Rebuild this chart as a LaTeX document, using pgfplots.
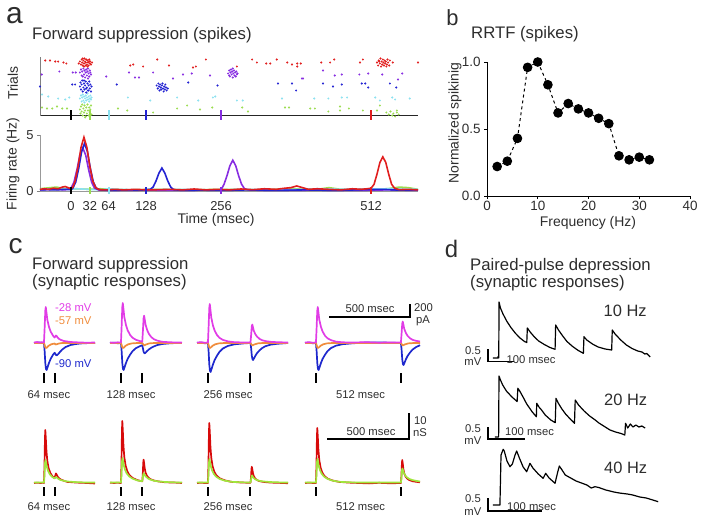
\documentclass[border=0pt]{standalone}
\usepackage{fontspec}
\setmainfont{Liberation Sans}
\usepackage{pgfplots}
\pgfplotsset{compat=1.18}
\definecolor{rR}{RGB}{225,30,30}
\definecolor{rP}{RGB}{135,45,225}
\definecolor{rB}{RGB}{35,35,210}
\definecolor{rC}{RGB}{140,225,240}
\definecolor{rG}{RGB}{155,220,80}
\definecolor{cM}{RGB}{225,60,230}
\definecolor{cO}{RGB}{240,140,60}
\definecolor{cB}{RGB}{30,40,205}
\definecolor{cR}{RGB}{215,10,10}
\definecolor{cG}{RGB}{160,230,60}
\definecolor{tx}{RGB}{45,45,45}
\newcommand{\fs}[1]{\fontsize{#1}{#1}\selectfont}
\pgfplotsset{bare/.style={scale only axis, hide axis, clip=false, anchor=south west},
  tr/.style={line width=1.7bp, line join=round},
  stim/.style={black, line width=2bp}}
\begin{document}
\begin{tikzpicture}
\useasboundingbox (0bp,0bp) rectangle (701bp,-520bp);
% ---------- letters and titles
\node[font=\fs{30}, tx] at (14.5bp,-16bp) {a};
\node[font=\fs{22}, tx] at (452.5bp,-17.5bp) {b};
\node[font=\fs{28}, tx] at (15.5bp,-246bp) {c};
\node[font=\fs{24}, tx] at (451.5bp,-249bp) {d};
\node[font=\fs{16.8}, tx, anchor=base west, inner sep=0pt] at (32bp,-39bp) {Forward suppression (spikes)};
\node[font=\fs{16.8}, tx, anchor=base west, inner sep=0pt] at (471bp,-38.5bp) {RRTF (spikes)};
\node[font=\fs{16.8}, tx, anchor=base west, inner sep=0pt] at (32bp,-269.5bp) {Forward suppression};
\node[font=\fs{16.8}, tx, anchor=base west, inner sep=0pt] at (32bp,-286.5bp) {(synaptic responses)};
\node[font=\fs{16.8}, tx, anchor=base west, inner sep=0pt] at (470bp,-270bp) {Paired-pulse depression};
\node[font=\fs{16.8}, tx, anchor=base west, inner sep=0pt] at (470bp,-287bp) {(synaptic responses)};
% ---------- panel a labels
\node[font=\fs{14}, tx, rotate=90] at (13bp,-83bp) {Trials};
\node[font=\fs{14}, tx, rotate=90] at (13bp,-164bp) {Firing rate (Hz)};
\node[font=\fs{14}, tx] at (216bp,-220bp) {Time (msec)};
% ---------- raster
\begin{axis}[scale only axis, at={(40bp,-115.5bp)}, anchor=south west, width=378bp, height=58.5bp,
  xmin=-53, xmax=592, ymin=0, ymax=58.5, axis x line*=bottom, axis y line*=left,
  x axis line style={black!85, line width=1bp}, y axis line style={gray, line width=1bp},
  xtick=\empty, ytick=\empty, clip=false]
\addplot[only marks, mark=*, mark size=0.8bp, rG] coordinates {(-49.5,8) (-41,7) (-32,7) (-24,9) (-15,7) (-7,7) (80,7) (96,5) (140,3) (181,7) (198,10) (220,6) (241,8) (292,8) (302,4) (365,8) (372,8) (408,7) (416,7) (439,4) (459,9) (459,5) (474,7) (498,5) (522,5) (527,10) (556,5)
 (15,6) (16,2) (17,9) (18,4) (19,11) (20,0) (21,7) (22,3) (23,10) (24,5) (25,-1) (26,8) (27,2) (28,11) (29,5) (30,0) (31,8) (32,3) (33,6) (34,10) (35,1) (24,-2)
 (538,3) (542,1) (545,4) (548,0) (550,2) (553,-1) (556,3) (559,1)};
\addplot[only marks, mark=*, mark size=0.8bp, rC] coordinates {(-49.5,21) (-39,19) (-22,17) (-10,16) (-3,18) (97,18) (135,15) (181,18) (217,15) (246,19) (242,18) (283,15) (293,15) (360,17) (415,17) (439,17) (462,18) (471,18) (519,18) (527,15) (548,18) (553,16) (578,17)
 (15,17) (17,20) (18,14) (19,18) (20,21) (21,15) (22,19) (23,13) (24,17) (25,20) (26,15) (27,18) (28,22) (29,16) (30,19) (31,14) (32,17) (33,20) (34,16) (35,18)};
\addplot[only marks, mark=*, mark size=0.8bp, rB] coordinates {(-53,29) (2,31) (7,31) (78,31) (353,32) (377,32) (384,25) (430,32) (447,29) (462,31) (496,32) (502,32) (507,28) (544,32) (555,28) (200,33) (250,30)
 (15,29) (16,33) (17,26) (18,31) (19,35) (20,24) (21,28) (22,32) (23,26) (24,30) (25,34) (26,23) (27,28) (28,32) (29,25) (30,30) (31,34) (32,27) (33,31) (34,24) (35,29) (22,35) (26,27) (30,25)
 (146,30) (148,27) (149,32) (150,29) (151,25) (152,31) (153,28) (154,26) (155,30) (156,32) (157,27) (158,24) (159,29) (160,26) (161,31) (162,28) (163,25) (165,27)};
\addplot[only marks, mark=*, mark size=0.8bp, rP] coordinates {(-50,41) (3,43) (8,43) (99,43) (109,38) (116,38) (140,43) (174,37) (191,41) (206,42) (237,40) (394,37) (396,37) (430,45) (450,40) (462,41) (492,41) (507,42) (531,41) (565,42) (558,36) (-20,44) (60,39)
 (15,43) (17,46) (18,40) (19,44) (21,47) (22,41) (23,45) (24,38) (25,43) (26,46) (27,40) (28,44) (29,47) (30,42) (31,39) (32,45) (33,43) (34,41) (20,39) (29,37)
 (268,42) (270,45) (271,39) (272,43) (273,46) (274,41) (275,44) (276,38) (277,42) (278,45) (279,40) (280,43) (281,39) (282,44) (283,41) (270,40) (284,42) (276,47)};
\addplot[only marks, mark=*, mark size=0.8bp, rR] coordinates {(-44,55) (-36,55) (-27,54) (-22,54) (-13,53) (-8,52) (101,50) (106,51) (123,49) (147,56) (167,50) (208,48) (213,49) (230,56) (283,49) (309,56) (317,53) (333,52) (340,52) (351,56) (369,53) (377,51) (386,52) (386,49) (392,52) (427,53) (442,53) (449,56) (493,53) (498,56) (549,53) (592,53)
 (15,54) (17,51) (18,56) (19,53) (20,50) (21,55) (22,52) (23,57) (24,54) (25,50) (25,53) (26,56) (27,51) (28,55) (29,53) (30,50) (31,56) (32,52) (33,54) (34,51) (20,57) (28,49) (22,49) (31,54) (36,53) (13,52)
 (522,53) (524,50) (525,55) (527,52) (528,57) (529,49) (530,54) (531,51) (532,56) (533,53) (534,50) (535,55) (536,52) (537,54) (539,51) (540,56) (541,53) (543,50) (544,55) (526,54) (538,49)};
\addplot[stim] coordinates {(0,5.5) (0,-4.5)};
\addplot[stim, rG] coordinates {(32,5.5) (32,-4.5)};
\addplot[stim, rC] coordinates {(64,5.5) (64,-4.5)};
\addplot[stim, rB] coordinates {(128,5.5) (128,-4.5)};
\addplot[stim, rP] coordinates {(256,5.5) (256,-4.5)};
\addplot[stim, rR] coordinates {(512,5.5) (512,-4.5)};
\end{axis}
% ---------- firing rate
\begin{axis}[scale only axis, at={(40bp,-191bp)}, anchor=south west, width=378bp, height=56bp,
  xmin=-53, xmax=592, ymin=0, ymax=5, axis x line*=bottom, axis y line*=left,
  axis line style={gray!80, line width=1bp}, xtick={0,32,64,128,256,512}, ytick={0,5},
  x tick style={draw=none}, y tick style={gray, line width=0.8bp}, tick align=outside, major tick length=3bp,
  ticklabel style={font=\fs{13}, text=tx}, xticklabel style={yshift=-4bp},
  /pgf/number format/assume math mode=true, clip=false]
\addplot[rG, line width=1.6bp] coordinates {(-53,0.2) (-45,0.25) (-35,0.3) (-25,0.35) (-15,0.25) (-5,0.2) (10,0.2) (30,0.15) (50,0.2) (70,0.15) (100,0.1) (140,0.15) (200,0.1) (260,0.15) (320,0.1) (380,0.2) (420,0.15) (440,0.3) (460,0.15) (480,0.1) (540,0.2) (560,0.35) (575,0.3) (592,0.15)};
\addplot[rC, line width=1.6bp] coordinates {(-53,0.15) (-30,0.2) (-10,0.15) (10,0.2) (30,0.15) (50,0.1) (64,0.2) (80,0.15) (120,0.1) (180,0.15) (240,0.1) (300,0.15) (360,0.1) (420,0.2) (480,0.15) (540,0.2) (592,0.15)};
\addplot[rP, line width=1.6bp] coordinates {(-53,0.1) (-30,0.15) (-10,0.1) (0,0.25) (5,0.8) (10,1.9) (15,3.2) (20,3.85) (25,3.2) (30,1.9) (35,0.8) (40,0.25) (48,0.08) (80,0.05) (130,0.08) (180,0.05) (230,0.08) (256,0.1) (261,0.6) (266,1.35) (271,2.25) (276,2.75) (281,2.25) (286,1.35) (291,0.6) (296,0.2) (305,0.08) (350,0.05) (420,0.08) (480,0.05) (540,0.1) (592,0.05)};
\addplot[rB, line width=1.6bp] coordinates {(-53,0.1) (-40,0.12) (-25,0.1) (-10,0.15) (0,0.12) (3,0.25) (8,0.8) (13,2.0) (18,3.5) (23,4.25) (28,3.5) (33,2.0) (38,0.8) (43,0.25) (50,0.1) (70,0.05) (100,0.1) (120,0.08) (135,0.15) (140,0.35) (145,0.9) (150,1.6) (155,2.05) (160,1.6) (165,0.9) (170,0.35) (175,0.12) (190,0.05) (220,0.08) (260,0.05) (300,0.1) (350,0.05) (400,0.1) (450,0.05) (500,0.12) (530,0.15) (560,0.08) (592,0.1)};
\addplot[rR, line width=1.6bp] coordinates {(-53,0.15) (-45,0.2) (-38,0.15) (-30,0.25) (-22,0.2) (-15,0.35) (-10,0.4) (-5,0.3) (0,0.2) (3,0.35) (7,0.9) (12,2.2) (17,3.9) (22,4.8) (27,3.9) (32,2.2) (37,0.9) (42,0.3) (48,0.12) (60,0.1) (75,0.15) (90,0.1) (110,0.15) (130,0.1) (150,0.12) (170,0.15) (190,0.1) (210,0.18) (230,0.1) (250,0.15) (270,0.1) (290,0.18) (310,0.12) (330,0.2) (350,0.15) (365,0.25) (375,0.3) (385,0.45) (395,0.3) (405,0.15) (420,0.2) (440,0.15) (460,0.1) (480,0.2) (495,0.15) (505,0.2) (512,0.25) (517,0.6) (522,1.5) (527,2.55) (532,3.05) (537,2.55) (542,1.5) (547,0.6) (552,0.25) (560,0.12) (575,0.15) (592,0.1)};
\addplot[stim] coordinates {(0,0.35) (0,-0.25)};
\addplot[stim, rG] coordinates {(32,0.35) (32,-0.25)};
\addplot[stim, rC] coordinates {(64,0.35) (64,-0.25)};
\addplot[stim, rB] coordinates {(128,0.35) (128,-0.25)};
\addplot[stim, rP] coordinates {(256,0.35) (256,-0.25)};
\addplot[stim, rR] coordinates {(512,0.35) (512,-0.25)};
\end{axis}
% ---------- panel b
\node[font=\fs{14}, tx, rotate=90] at (455bp,-123bp) {Normalized spikinig};
\node[font=\fs{14}, tx] at (588bp,-222.5bp) {Frequency (Hz)};
\begin{axis}[scale only axis, at={(487bp,-196bp)}, anchor=south west, width=203bp, height=134bp,
  xmin=0, xmax=40, ymin=0, ymax=1, axis x line*=bottom, axis y line*=left,
  axis line style={black, line width=1bp}, xtick={0,10,20,30,40}, ytick={0,0.5,1},
  tick align=outside, major tick length=3bp, tick style={black, line width=0.8bp},
  ticklabel style={font=\fs{13.5}, text=tx}, xticklabel style={yshift=1bp},
  yticklabel style={/pgf/number format/fixed, /pgf/number format/fixed zerofill, /pgf/number format/precision=1},
  /pgf/number format/assume math mode=true, clip=false]
\addplot[black, dashed, line width=1bp, mark=*, mark size=4.3bp, mark options={solid}] coordinates {(2,0.22) (4,0.26) (6,0.43) (8,0.96) (10,1.0) (12,0.83) (14,0.62) (16,0.69) (18,0.65) (20,0.62) (22,0.58) (24,0.54) (26,0.30) (28,0.27) (30,0.29) (32,0.27)};
\end{axis}
% ---------- panel c upper row
\begin{axis}[bare, at={(34bp,-373bp)}, width=61bp, height=72bp, xmin=-60, xmax=307, ymin=-30, ymax=42]
\addplot[tr, cB] coordinates {(-60,0) (-30,0.5) (0,0) (4,-8.1) (8,-20) (12,-25.9) (16,-27) (22,-24) (30,-20) (40,-15.9) (55,-11.6) (64,-9.8) (68,-10.5) (72,-12) (78,-12.3) (86,-11) (96,-9) (110,-6.5) (130,-4) (160,-2) (200,-0.8) (240,-0.2) (307,0)};
\addplot[tr, cO] coordinates {(-60,0) (0,0) (4,-2) (8,-4.5) (14,-5) (20,-4) (30,-2.5) (45,-1.2) (64,-0.5) (70,-1.5) (78,-1.2) (90,-0.5) (110,0) (307,0)};
\addplot[tr, cM] coordinates {(-60,0.5) (-40,1) (-30,0.3) (-15,0.8) (0,0.5) (4,15) (8,32.4) (11,36) (15,30.6) (20,23.4) (30,16.2) (40,11.5) (55,7.2) (64,5.5) (68,6.5) (72,7.5) (76,7) (82,5.5) (90,4.2) (100,3.2) (120,2) (160,1) (220,0.5) (260,0.3) (307,0.5)};
\addplot[stim] coordinates {(0,-30) (0,-40)};
\addplot[stim] coordinates {(64,-30) (64,-40)};
\end{axis}
\begin{axis}[bare, at={(110bp,-373bp)}, width=72bp, height=72bp, xmin=-66, xmax=367, ymin=-30, ymax=42]
\addplot[tr, cB] coordinates {(-66,0) (-40,0.4) (-20,-0.3) (0,0) (4,-8.1) (8,-20) (12,-25.9) (16,-27) (22,-24) (30,-20) (40,-15.9) (55,-11.6) (70,-8.1) (90,-5.1) (120,-2.7) (128,-2.3) (132,-5.3) (136,-8.8) (140,-10) (144,-10.3) (150,-9.3) (158,-7.9) (168,-6.4) (183,-4.7) (198,-3.4) (218,-2.1) (248,-1) (288,-0.4) (330,0) (367,0)};
\addplot[tr, cO] coordinates {(-66,0) (0,0) (4,-2) (8,-4.5) (14,-5) (20,-4) (30,-2.5) (45,-1.2) (65,-0.4) (100,0) (128,0) (134,-1.5) (140,-2.5) (150,-1.5) (170,-0.4) (200,0) (367,0)};
\addplot[tr, cM] coordinates {(-66,0.5) (-40,0.2) (-20,0.7) (0,0.5) (4,16.8) (8,36) (11,40) (15,34) (20,26) (30,18) (40,12.8) (55,8) (70,5.2) (90,3.2) (120,1.6) (128,1.3) (132,12.2) (136,24.7) (139,27.3) (143,23.4) (148,18.2) (158,12.7) (168,9.1) (183,5.8) (198,3.8) (218,2.4) (248,1.2) (288,0.8) (330,0.5) (367,0.4)};
\addplot[stim] coordinates {(0,-30) (0,-40)};
\addplot[stim] coordinates {(128,-30) (128,-40)};
\end{axis}
\begin{axis}[bare, at={(197bp,-373bp)}, width=91bp, height=72bp, xmin=-66, xmax=482, ymin=-30, ymax=42]
\addplot[tr, cB] coordinates {(-66,0) (-40,0.4) (-20,-0.3) (0,0) (4,-8.7) (8,-21.5) (12,-27.8) (16,-29) (22,-25.8) (30,-21.5) (40,-17.1) (55,-12.5) (70,-8.7) (90,-5.5) (120,-2.9) (160,-1.3) (220,-0.3) (256,0) (260,-5.1) (264,-12.6) (268,-16.3) (272,-17) (278,-15.1) (286,-12.6) (296,-10) (311,-7.3) (326,-5.1) (346,-3.2) (376,-1.7) (416,-0.8) (482,0)};
\addplot[tr, cO] coordinates {(-66,0) (0,0) (4,-2) (8,-4.5) (14,-5) (20,-4) (30,-2.5) (45,-1.2) (65,-0.4) (100,0) (256,0) (262,-1.5) (268,-2.5) (278,-1.5) (300,-0.4) (330,0) (482,0)};
\addplot[tr, cM] coordinates {(-66,0.5) (-40,0.8) (-20,0.3) (0,0.5) (4,16.4) (8,35.1) (11,39) (15,33.2) (20,25.4) (30,17.6) (40,12.5) (55,7.8) (70,5.1) (90,3.1) (120,1.6) (160,0.8) (220,0.5) (256,0.5) (260,8) (264,16.7) (267,18.5) (271,15.8) (276,12.2) (286,8.6) (296,6.3) (311,4.1) (326,2.8) (346,1.9) (376,1.2) (416,0.8) (482,0.5)};
\addplot[stim] coordinates {(0,-30) (0,-40)};
\addplot[stim] coordinates {(256,-30) (256,-40)};
\end{axis}
\begin{axis}[bare, at={(305bp,-373bp)}, width=115bp, height=72bp, xmin=-66, xmax=627, ymin=-30, ymax=42]
\addplot[tr, cB] coordinates {(-66,0) (-40,0.4) (-20,-0.3) (0,0) (4,-8.1) (8,-20) (12,-25.9) (16,-27) (22,-24) (30,-20) (40,-15.9) (55,-11.6) (70,-8.1) (90,-5.1) (120,-2.7) (160,-1.2) (220,-0.3) (300,0.5) (380,0.6) (450,0.3) (512,0) (516,-6.6) (520,-16.3) (524,-21.1) (528,-22) (534,-19.6) (542,-16.3) (552,-13) (567,-9.5) (582,-6.6) (602,-4.2) (627,-2.2)};
\addplot[tr, cO] coordinates {(-66,0) (0,0) (4,-2) (8,-4.5) (14,-5) (20,-4) (30,-2.5) (45,-1.2) (65,-0.4) (100,0) (512,0) (518,-1.5) (524,-2.5) (534,-1.5) (556,-0.4) (590,0) (627,0)};
\addplot[tr, cM] coordinates {(-66,0.5) (-40,0.8) (-20,0.3) (0,0.5) (4,15) (8,32.4) (11,36) (15,30.6) (20,23.4) (30,16.2) (40,11.5) (55,7.2) (70,4.7) (90,2.9) (120,1.4) (160,0.7) (220,0.5) (300,0.8) (380,0.3) (450,0.6) (512,0.5) (516,9.3) (520,19.4) (523,21.5) (527,18.4) (532,14.2) (542,10) (552,7.2) (567,4.7) (582,3.2) (602,2.2) (627,1.5)};
\addplot[stim] coordinates {(0,-30) (0,-40)};
\addplot[stim] coordinates {(512,-30) (512,-40)};
\end{axis}
% ---------- panel c lower row
\begin{axis}[bare, at={(34bp,-488bp)}, width=61bp, height=70bp, xmin=-60, xmax=307, ymin=-5, ymax=65]
\addplot[tr, cR] coordinates {(-60,0) (-40,0.3) (-20,0) (-5,0.3) (0,0) (3,15.9) (6,45) (8,53) (11,45) (15,31.8) (20,22.3) (28,14.8) (38,10.1) (50,6.9) (64,4.8) (68,7.5) (72,9.5) (76,8.5) (82,6.5) (90,4.8) (100,3.6) (120,2.2) (140,1.1) (200,0.4) (260,0) (307,-0.5)};
\addplot[tr, cG] coordinates {(-60,0.5) (-30,0.5) (0,0.5) (3,6.9) (6,19.6) (9,23) (13,19.6) (18,15.6) (25,12) (35,8.7) (50,6) (64,4.5) (68,5.5) (74,6) (80,5) (90,3.8) (100,3) (140,1.5) (200,0.8) (260,0.5) (307,0.5)};
\addplot[stim] coordinates {(0,-4) (0,-13)};
\addplot[stim] coordinates {(64,-4) (64,-13)};
\end{axis}
\begin{axis}[bare, at={(110bp,-488bp)}, width=72bp, height=70bp, xmin=-66, xmax=367, ymin=-5, ymax=65]
\addplot[tr, cR] coordinates {(-66,0.3) (-40,0) (-20,0.4) (-5,0) (0,0) (3,18.6) (6,52.7) (8,62) (11,52.7) (15,37.2) (20,26) (28,17.4) (38,11.8) (50,8.1) (70,5) (100,2.8) (128,1.7) (131,8.1) (134,20.1) (136,23.4) (139,20) (143,14.5) (148,10.4) (156,7.3) (166,5.2) (178,3.8) (198,2.5) (228,1.5) (268,0.7) (328,0.4) (367,0)};
\addplot[tr, cG] coordinates {(-66,0.5) (0,0.5) (3,7.5) (6,21.3) (9,25) (13,21.3) (18,17) (25,13) (35,9.5) (50,6.5) (70,4.3) (100,2.5) (128,1.8) (131,4.2) (134,8.6) (137,9.8) (141,8.6) (146,7.2) (153,6) (163,4.5) (178,3.3) (198,2.3) (228,1.5) (268,1) (328,0.6) (367,0.5)};
\addplot[stim] coordinates {(0,-4) (0,-13)};
\addplot[stim] coordinates {(128,-4) (128,-13)};
\end{axis}
\begin{axis}[bare, at={(197bp,-488bp)}, width=91bp, height=70bp, xmin=-66, xmax=482, ymin=-5, ymax=65]
\addplot[tr, cR] coordinates {(-66,0) (-40,0.3) (-20,0) (0,0) (3,18) (6,51) (8,60) (11,51) (15,36) (20,25.2) (28,16.8) (38,11.4) (50,7.8) (70,4.8) (100,2.7) (140,1.2) (200,0.5) (256,0.2) (259,5) (262,13.8) (264,16.2) (267,13.8) (271,9.8) (276,6.9) (284,4.6) (294,3.1) (306,2.1) (326,1.3) (356,0.7) (396,0.3) (456,0) (482,-0.3)};
\addplot[tr, cG] coordinates {(-66,0.5) (0,0.5) (3,7.2) (6,20.4) (9,24) (13,20.4) (18,16.3) (25,12.5) (35,9.1) (50,6.2) (70,4.1) (100,2.4) (140,1.2) (200,0.7) (256,0.5) (259,2.6) (262,6.5) (265,7.5) (269,6.5) (274,5.3) (281,4.1) (291,3.2) (306,2.3) (326,1.7) (356,1.2) (396,0.8) (456,0.5) (482,0.5)};
\addplot[stim] coordinates {(0,-4) (0,-13)};
\addplot[stim] coordinates {(256,-4) (256,-13)};
\end{axis}
\begin{axis}[bare, at={(305bp,-488bp)}, width=115bp, height=70bp, xmin=-66, xmax=627, ymin=-5, ymax=65]
\addplot[tr, cR] coordinates {(-66,0) (-40,0.3) (-15,0) (0,0) (3,16.5) (6,46.8) (8,55) (11,46.8) (15,33) (20,23.1) (28,15.4) (38,10.5) (50,7.2) (70,4.4) (100,2.5) (140,1.1) (200,0.4) (260,0) (320,-0.4) (380,0.2) (450,-0.3) (512,0) (515,6.9) (518,19.6) (520,23) (523,19.6) (527,13.8) (532,9.7) (540,6.4) (550,4.4) (562,3) (582,1.8) (612,1) (627,0.7)};
\addplot[tr, cG] coordinates {(-66,0.5) (0,0.5) (3,7.2) (6,20.4) (9,24) (13,20.4) (18,16.3) (25,12.5) (35,9.1) (50,6.2) (70,4.1) (100,2.4) (140,1.2) (200,0.7) (260,0.5) (512,0.5) (515,4.7) (518,12.4) (521,14.5) (525,12.4) (530,10) (537,7.8) (547,5.8) (562,4.1) (582,2.9) (612,1.9) (627,1.5)};
\addplot[stim] coordinates {(0,-4) (0,-13)};
\addplot[stim] coordinates {(512,-4) (512,-13)};
\end{axis}
% panel c annotations
\node[font=\fs{11.3}, cM, anchor=base west, inner sep=0pt] at (55bp,-311bp) {-28 mV};
\node[font=\fs{11.3}, cO, anchor=base west, inner sep=0pt] at (55bp,-324bp) {-57 mV};
\node[font=\fs{11.3}, cB, anchor=base west, inner sep=0pt] at (55bp,-367.7bp) {-90 mV};
\foreach \yy in {398.3,510} {
\node[font=\fs{11.3}, tx, anchor=base, inner sep=0pt] at (49bp,-\yy bp) {64 msec};
\node[font=\fs{11.3}, tx, anchor=base, inner sep=0pt] at (131bp,-\yy bp) {128 msec};
\node[font=\fs{11.3}, tx, anchor=base, inner sep=0pt] at (228bp,-\yy bp) {256 msec};
\node[font=\fs{11.3}, tx, anchor=base, inner sep=0pt] at (360.5bp,-\yy bp) {512 msec};
}
\draw[black, line width=2.3bp] (329bp,-316.7bp) -- (410bp,-316.7bp) -- (410bp,-304bp);
\node[font=\fs{11.3}, tx, anchor=base, inner sep=0pt] at (370bp,-312.7bp) {500 msec};
\node[font=\fs{11.3}, tx, anchor=base west, inner sep=0pt] at (414bp,-311.7bp) {200};
\node[font=\fs{11.3}, tx, anchor=base west, inner sep=0pt] at (416bp,-323bp) {pA};
\draw[black, line width=2.3bp] (327bp,-439bp) -- (409bp,-439bp) -- (409bp,-413bp);
\node[font=\fs{11.3}, tx, anchor=base, inner sep=0pt] at (371bp,-435bp) {500 msec};
\node[font=\fs{11.3}, tx, anchor=base west, inner sep=0pt] at (414bp,-424bp) {10};
\node[font=\fs{11.3}, tx, anchor=base west, inner sep=0pt] at (413bp,-436bp) {nS};
% ---------- panel d
\begin{axis}[bare, at={(488bp,-358bp)}, width=162bp, height=60bp, xmin=-39, xmax=533.4, ymin=0, ymax=60]
\addplot[black, line width=1.2bp, line join=round] coordinates {(-22,0) (-5,0) (-3,1.5) (-1,0) (0,56) (5,50) (14,44) (28,36.5) (42,30.5) (57,25) (74,20) (90,16.5) (98,15.5) (100,30) (110,26) (125,21) (140,17) (160,13.5) (180,10.5) (198,8.7) (200,33) (210,28) (225,22) (240,16.5) (260,11.5) (280,7.5) (298,4.7) (300,21.3) (310,18) (330,14) (350,11) (375,9) (398,8) (400,28) (410,24) (430,18) (450,13) (470,9.5) (490,7) (505,6) (515,4) (522,4.5) (534,1)};
\end{axis}
\begin{axis}[bare, at={(488bp,-437bp)}, width=160bp, height=62bp, xmin=-29.7, xmax=402.7, ymin=0, ymax=62]
\addplot[black, line width=1.2bp, line join=round] coordinates {(-11,0) (-1,0) (0,61) (4,57) (10,52) (20,46) (35,40) (49,35.5) (51,48.7) (56,46) (65,40) (75,33) (90,25) (101,20.3) (102,33.7) (108,30) (115,27) (125,22) (140,17) (152,14.3) (154,38.7) (160,34) (170,28) (180,23) (195,17) (204,13.7) (206,37) (215,32) (230,26) (245,21) (260,17) (270,14) (285,10.5) (300,7) (315,5) (330,3.5) (340,2) (342,13.7) (348,9) (355,13) (362,10) (370,12) (378,10) (386,11) (395,9)};
\end{axis}
\begin{axis}[bare, at={(488bp,-505bp)}, width=172bp, height=60bp, xmin=-23.1, xmax=295.4, ymin=0, ymax=60]
\addplot[black, line width=1.2bp, line join=round] coordinates {(-14,0) (-1,0) (1,50) (5,55.7) (7,54) (12,44) (17.6,38.3) (22,41) (27,50) (30,54) (35,47) (42,38) (48.5,33.3) (54.6,41.7) (60,37) (70,31) (79,26.7) (83.7,31.7) (90,27) (101,21.7) (106,33) (109,39) (114,35) (120,30) (130,27) (140,24) (150,22) (160,20) (168,17) (175,18.3) (182,17.5) (195,15) (210,13) (220,12) (235,11) (245,10) (258,8) (270,7) (282,5) (292,3.3)};
\end{axis}
\node[font=\fs{16.5}, tx, anchor=base west, inner sep=0pt] at (603.5bp,-316.7bp) {10 Hz};
\node[font=\fs{16.5}, tx, anchor=base west, inner sep=0pt] at (604bp,-405bp) {20 Hz};
\node[font=\fs{16.5}, tx, anchor=base west, inner sep=0pt] at (604bp,-473.3bp) {40 Hz};
\draw[black, line width=1.2bp] (488bp,-349bp) -- (488bp,-361.5bp) -- (514bp,-361.5bp);
\draw[black, line width=1.2bp] (488bp,-427bp) -- (488bp,-439bp) -- (525bp,-439bp);
\draw[black, line width=1.2bp] (488bp,-498bp) -- (488bp,-511bp) -- (542bp,-511bp);
\node[font=\fs{11.3}, tx, anchor=base east, inner sep=0pt] at (481bp,-354bp) {0.5};
\node[font=\fs{11.3}, tx, anchor=base east, inner sep=0pt] at (481.5bp,-365bp) {mV};
\node[font=\fs{11.3}, tx, anchor=base west, inner sep=0pt] at (506.5bp,-363.3bp) {100 msec};
\node[font=\fs{11.3}, tx, anchor=base east, inner sep=0pt] at (481bp,-432.3bp) {0.5};
\node[font=\fs{11.3}, tx, anchor=base east, inner sep=0pt] at (481.5bp,-444bp) {mV};
\node[font=\fs{11.3}, tx, anchor=base west, inner sep=0pt] at (505bp,-435.7bp) {100 msec};
\node[font=\fs{11.3}, tx, anchor=base east, inner sep=0pt] at (481bp,-502.7bp) {0.5};
\node[font=\fs{11.3}, tx, anchor=base east, inner sep=0pt] at (481.5bp,-515bp) {mV};
\node[font=\fs{11.3}, tx, anchor=base west, inner sep=0pt] at (507bp,-510bp) {100 msec};
\end{tikzpicture}
\end{document}
